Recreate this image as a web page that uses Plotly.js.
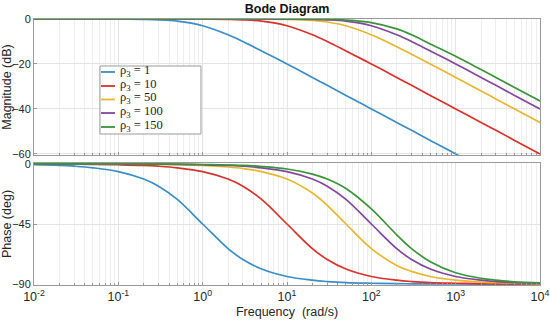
<!DOCTYPE html>
<html>
<head>
<meta charset="utf-8">
<script src="https://cdn.plot.ly/plotly-3.0.1.min.js"></script>
<style>html,body{margin:0;padding:0;background:#fff;}#chart{width:550px;height:326px;}</style>
</head>
<body>
<div id="chart"></div>
<script>
const freq = [0.01, 0.02, 0.03, 0.05, 0.1, 0.2, 0.3, 0.5, 1, 2, 3, 5, 10, 20, 30, 50, 100, 200, 300, 500, 1000, 2000, 3000, 5000, 10000];

const seriesNames = ['ρ<sub>3</sub> = 1', 'ρ<sub>3</sub> = 10', 'ρ<sub>3</sub> = 50', 'ρ<sub>3</sub> = 100', 'ρ<sub>3</sub> = 150'];
const seriesColors = ['#3b8dc6', '#d7322b', '#e8b731', '#84479c', '#3a933a'];

// Magnitude (dB)
const magRho1   = [0, 0, 0, -0.01, -0.04, -0.17, -0.37, -0.97, -3.0, -7.0, -10.0, -14.2, -20.0, -26.0, -29.5, -34.0, -40.0, -46.0, -49.5, -54.0, -60.0, -66.0, -69.5, -74.0, -80.0];
const magRho10  = [0, 0, 0, 0, 0, 0, 0, -0.01, -0.04, -0.17, -0.37, -0.97, -3.0, -7.0, -10.0, -14.2, -20.0, -26.0, -29.5, -34.0, -40.0, -46.0, -49.5, -54.0, -60.0];
const magRho50  = [0, 0, 0, 0, 0, 0, 0, 0, 0, -0.01, -0.02, -0.04, -0.17, -0.64, -1.34, -3.0, -7.0, -12.3, -15.7, -20.0, -26.0, -32.0, -35.6, -40.0, -46.0];
const magRho100 = [0, 0, 0, 0, 0, 0, 0, 0, 0, 0, 0, -0.01, -0.04, -0.17, -0.37, -0.97, -3.0, -7.0, -10.0, -14.2, -20.0, -26.0, -29.5, -34.0, -40.0];
const magRho150 = [0, 0, 0, 0, 0, 0, 0, 0, 0, 0, 0, 0, -0.02, -0.08, -0.17, -0.46, -1.6, -4.4, -7.0, -11.1, -16.6, -22.5, -26.0, -30.5, -36.5];

// Phase (deg)
const phRho1   = [-0.6, -1.1, -1.7, -2.9, -5.7, -11.3, -16.7, -26.6, -45.0, -63.4, -71.6, -78.7, -84.3, -87.1, -88.1, -88.9, -89.4, -89.7, -89.8, -89.9, -89.9, -90.0, -90.0, -90.0, -90.0];
const phRho10  = [-0.06, -0.1, -0.2, -0.3, -0.6, -1.1, -1.7, -2.9, -5.7, -11.3, -16.7, -26.6, -45.0, -63.4, -71.6, -78.7, -84.3, -87.1, -88.1, -88.9, -89.4, -89.7, -89.8, -89.9, -89.9];
const phRho50  = [-0.01, -0.02, -0.03, -0.06, -0.1, -0.2, -0.3, -0.6, -1.1, -2.3, -3.4, -5.7, -11.3, -21.8, -31.0, -45.0, -63.4, -76.0, -80.5, -84.3, -87.1, -88.6, -89.0, -89.4, -89.7];
const phRho100 = [0, -0.01, -0.02, -0.03, -0.06, -0.1, -0.2, -0.3, -0.6, -1.1, -1.7, -2.9, -5.7, -11.3, -16.7, -26.6, -45.0, -63.4, -71.6, -78.7, -84.3, -87.1, -88.1, -88.9, -89.4];
const phRho150 = [0, 0, -0.01, -0.02, -0.04, -0.08, -0.1, -0.2, -0.4, -0.8, -1.1, -1.9, -3.8, -7.6, -11.3, -18.4, -33.7, -53.1, -63.4, -73.3, -81.5, -85.7, -87.1, -88.3, -89.1];

const xTickVals = [0.01, 0.1, 1, 10, 100, 1000, 10000];
const xTickText = ['10<sup>-2</sup>', '10<sup>-1</sup>', '10<sup>0</sup>', '10<sup>1</sup>', '10<sup>2</sup>', '10<sup>3</sup>', '10<sup>4</sup>'];
const magTickVals = [0, -20, -40, -60];
const phTickVals = [0, -45, -90];

const mags = [magRho1, magRho10, magRho50, magRho100, magRho150];
const phases = [phRho1, phRho10, phRho50, phRho100, phRho150];

const minorVals = [];
for (let d = -2; d < 4; d++) {
  for (let k = 2; k <= 9; k++) minorVals.push(k * Math.pow(10, d));
}

const traces = [];
mags.forEach((m, i) => {
  traces.push({
    x: freq, y: m, type: 'scatter', mode: 'lines', name: seriesNames[i], showlegend: false,
    line: {color: seriesColors[i], width: 1.7, shape: 'spline', smoothing: 1},
    xaxis: 'x', yaxis: 'y'
  });
});
phases.forEach((p, i) => {
  traces.push({
    x: freq, y: p, type: 'scatter', mode: 'lines', name: seriesNames[i], showlegend: false,
    line: {color: seriesColors[i], width: 1.7, shape: 'spline', smoothing: 1},
    xaxis: 'x2', yaxis: 'y2'
  });
});

// Legend box (drawn as shapes + annotations to match the compact reference legend)
const shapes = [{type: 'rect', xref: 'paper', yref: 'paper', x0: 0.1304, x1: 0.330, y0: 0.5677, y1: 0.8233,
                 fillcolor: '#ffffff', line: {color: '#9a9a9a', width: 1}, layer: 'above'}];
const annotations = [];
const legY = [0.8008, 0.7481, 0.6974, 0.6466, 0.5940];
seriesNames.forEach((n, i) => {
  shapes.push({type: 'line', xref: 'paper', yref: 'paper', x0: 0.1324, x1: 0.1601, y0: legY[i], y1: legY[i],
               line: {color: seriesColors[i], width: 1.8}, layer: 'above'});
  annotations.push({xref: 'paper', yref: 'paper', x: 0.168, y: legY[i] + 0.004, xanchor: 'left', yanchor: 'middle',
                    text: n, showarrow: false, borderpad: 0,
                    font: {family: 'Liberation Serif, DejaVu Serif, serif', size: 12.5, color: '#222'}});
});

const gridCol = '#e4e4e4';
const axCol = '#9a9a9a';
const tickFont = {family: 'Liberation Sans, Arial, sans-serif', size: 11, color: '#262626'};
const xTickFont = {family: 'Liberation Sans, Arial, sans-serif', size: 12.5, color: '#262626'};

const xBase = {
  type: 'log', range: [-2, 4], showline: true, mirror: true, linecolor: axCol, linewidth: 1,
  ticks: 'inside', ticklen: 3, tickcolor: axCol, tickvals: xTickVals,
  showgrid: true, gridcolor: gridCol, gridwidth: 1, zeroline: false,
  minor: {tickmode: 'array', tickvals: minorVals, ticks: 'inside', ticklen: 2, tickcolor: axCol, showgrid: true, gridcolor: '#eeeeee', gridwidth: 1},
  tickfont: xTickFont
};

const layout = {
  width: 550, height: 326,
  margin: {l: 34, r: 10, t: 19, b: 41},
  paper_bgcolor: '#fff', plot_bgcolor: '#fff',
  showlegend: false,
  shapes: shapes,
  annotations: annotations,
  title: {text: '<b>Bode Diagram</b>', x: 0.522, xanchor: 'center', y: 0.975, yanchor: 'middle',
          font: {family: 'Liberation Sans, Arial, sans-serif', size: 12.5, color: '#111'}},
  xaxis: Object.assign({}, xBase, {domain: [0, 1], anchor: 'y', showticklabels: false, matches: 'x2'}),
  yaxis: {domain: [0.4887, 1], range: [-60.5, 0], anchor: 'x', tickvals: magTickVals,
          showline: true, mirror: true, linecolor: axCol, ticks: 'inside', ticklen: 3, tickcolor: axCol,
          showgrid: true, gridcolor: gridCol, zeroline: false, tickfont: tickFont, ticksuffix: ' ',
          title: {text: 'Magnitude (dB)', standoff: 1, font: {family: 'Liberation Sans, Arial, sans-serif', size: 12.5, color: '#262626'}}},
  xaxis2: Object.assign({}, xBase, {domain: [0, 1], anchor: 'y2', ticktext: xTickText,
          title: {text: 'Frequency  (rad/s)', standoff: 4, font: {family: 'Liberation Sans, Arial, sans-serif', size: 12.5, color: '#262626'}}}),
  yaxis2: {domain: [0, 0.4586], range: [-90.7, 0.7], anchor: 'x2', tickvals: phTickVals,
          showline: true, mirror: true, linecolor: axCol, ticks: 'inside', ticklen: 3, tickcolor: axCol,
          showgrid: true, gridcolor: gridCol, zeroline: false, tickfont: tickFont, ticksuffix: ' ',
          title: {text: 'Phase (deg)', standoff: 1, font: {family: 'Liberation Sans, Arial, sans-serif', size: 12.5, color: '#262626'}}}
};

Plotly.newPlot('chart', traces, layout, {displayModeBar: false, staticPlot: true});
</script>
</body>
</html>
